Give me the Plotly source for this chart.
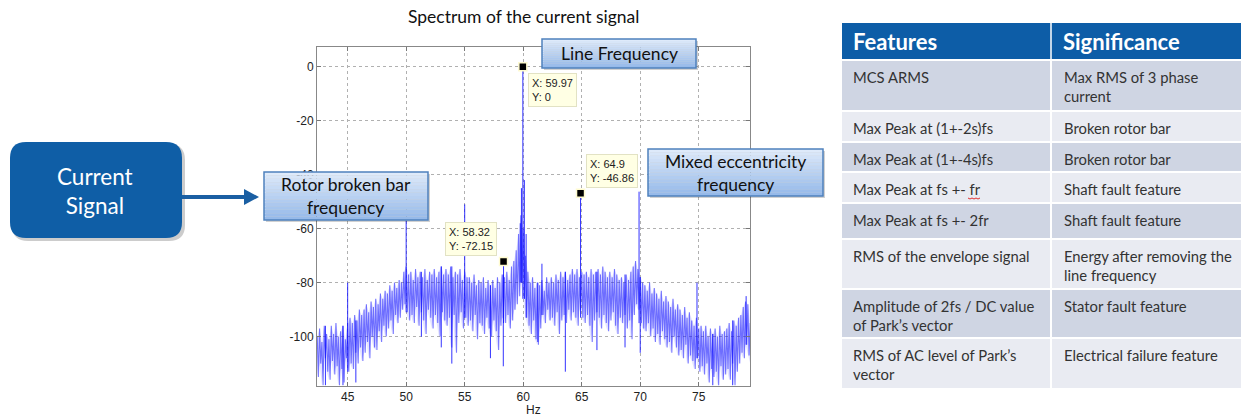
import numpy as np
import plotly.graph_objects as go

W, H = 1245, 419

# ---------------- data ----------------
freq_start_hz = 42.4
freq_step_hz = 0.2

band_upper_db = [
    -100, -97, -102, -96, -99,   -101, -96, -99, -95, -100,   -98, -96, -101, -95, -93,
    -95, -92, -94, -90, -92,     -90, -88, -91, -87, -89,     -86, -88, -84, -86, -83,
    -84, -81, -83, -80, -82,     -79, -80, -76, -74, -77,     -76, -79, -75, -78, -76,
    -78, -75, -79, -76, -77,     -75, -78, -76, -74, -77,     -75, -77, -74, -78, -76,
    -77, -75, -79, -76, -78,     -78, -80, -77, -81, -79,     -80, -78, -82, -79, -81,
    -79, -82, -78, -80, -77,     -78, -76, -79, -74, -72,     -68, -62, -55, -60, -70,
    -76, -80, -78, -82, -80,     -81, -79, -83, -78, -80,     -78, -80, -77, -79, -76,
    -78, -76, -79, -77, -75,     -77, -75, -78, -76, -77,     -76, -78, -75, -77, -76,
    -75, -77, -74, -76, -78,     -76, -78, -75, -77, -79,     -78, -80, -77, -79, -76,
    -74, -72, -75, -78, -80,     -81, -83, -80, -84, -82,     -84, -86, -83, -87, -85,
    -87, -89, -86, -90, -88,     -90, -92, -89, -93, -91,     -94, -96, -93, -97, -96,
    -98, -96, -100, -97, -99,    -97, -100, -96, -99, -98,    -97, -95, -98, -94, -96,
    -93, -92, -89, -87, -88,
    -95,
]
band_lower_db = [
    -115, -110, -118, -108, -113,  -116, -109, -114, -111, -118,  -112, -117, -108, -113, -110,
    -112, -106, -110, -104, -109,  -106, -102, -108, -100, -104,  -105, -98, -102, -96, -100,
    -97, -94, -99, -92, -95,       -93, -90, -88, -91, -94,       -92, -95, -89, -96, -91,
    -94, -99, -90, -93, -97,       -92, -95, -100, -91, -94,      -96, -93, -104, -92, -106,
    -95, -91, -97, -93, -96,       -94, -98, -92, -101, -95,      -96, -99, -93, -97, -100,
    -94, -98, -105, -96, -93,      -95, -92, -97, -94, -90,       -88, -85, -80, -86, -93,
    -96, -99, -94, -101, -103,     -97, -92, -95, -90, -94,       -93, -96, -91, -99, -94,
    -92, -95, -90, -94, -91,       -93, -96, -90, -93, -95,       -92, -96, -102, -94, -91,
    -93, -97, -92, -95, -98,       -94, -91, -96, -99, -93,       -95, -92, -97, -94, -101,
    -92, -88, -90, -95, -97,       -98, -95, -100, -97, -102,     -99, -103, -98, -101, -104,
    -102, -106, -100, -104, -107,  -105, -108, -103, -110, -107,  -109, -112, -108, -113, -111,
    -114, -110, -117, -112, -115,  -113, -118, -111, -116, -114,  -112, -116, -110, -118, -113,
    -110, -106, -108, -103, -107,
    -110,
]

peak_hz = [45.0, 50.0, 55.0, 58.32, 59.75, 59.85, 59.97, 60.1, 60.25, 61.6, 64.9, 69.9, 74.85, 79.05]
peak_db = [-80, -57, -51, -72.15, -58, -45, 0, -42, -62, -73, -46.86, -46.3, -80, -85]

dip_hz = [43.1, 44.6, 45.7, 51.3, 53.0, 53.9, 57.2, 58.3, 61.25, 63.6, 66.3, 68.7, 70.0, 76.2, 77.9]
dip_db = [-118, -118, -117, -100, -104, -110, -108, -111, -102, -113, -105, -104, -106, -118, -118]

tip_hz = [59.97, 58.32, 64.9]
tip_db = [0, -72.15, -46.86]

x_ticks = [45, 50, 55, 60, 65, 70, 75]
y_ticks = [0, -20, -40, -60, -80, -100]

features = [
    "MCS ARMS",
    "Max Peak at (1+-2s)fs",
    "Max Peak at (1+-4s)fs",
    "Max Peak at fs +- fr",
    "Max Peak at fs +- 2fr",
    "RMS of the envelope signal",
    "Amplitude of 2fs / DC value<br>of Park\u2019s vector",
    "RMS of AC level of Park\u2019s<br>vector",
]
significance = [
    "Max RMS of 3 phase<br>current",
    "Broken rotor bar",
    "Broken rotor bar",
    "Shaft fault feature",
    "Shaft fault feature",
    "Energy after removing the<br>line frequency",
    "Stator fault feature",
    "Electrical failure feature",
]

# ---------------- helpers ----------------
def px(x):
    return x / W


def py(y):
    return 1 - y / H


LINE_COL = "rgba(15,15,255,0.55)"

freq_hz = np.round(freq_start_hz + freq_step_hz * np.arange(len(band_upper_db)), 3)

zx, zy = [], []
for f, u, l in zip(freq_hz, band_upper_db, band_lower_db):
    zx += [f, f + freq_step_hz / 2]
    zy += [u, l]

# light filled body of the noise band
bx = list(freq_hz) + list(freq_hz[::-1])
by = list(band_upper_db) + list(band_lower_db[::-1])


def nearest(f):
    return int(np.argmin(np.abs(freq_hz - f)))


sx, sy = [], []
for f, v in zip(peak_hz, peak_db):
    base = band_lower_db[nearest(f)]
    sx += [f, f, None]
    sy += [base, v, None]
for f, v in zip(dip_hz, dip_db):
    base = band_upper_db[nearest(f)]
    sx += [f, f, None]
    sy += [base, v, None]

fig = go.Figure()
fig.add_trace(go.Scatter(x=bx, y=by, mode="lines", fill="toself", fillcolor="rgba(80,80,255,0.16)",
                         line=dict(width=0), hoverinfo="skip", showlegend=False))
fig.add_trace(go.Scatter(x=zx, y=zy, mode="lines", line=dict(color=LINE_COL, width=1.1),
                         hoverinfo="skip", showlegend=False))
fig.add_trace(go.Scatter(x=sx, y=sy, mode="lines", line=dict(color="rgba(15,15,255,0.85)", width=1),
                         hoverinfo="skip", showlegend=False))
fig.add_trace(go.Scatter(x=tip_hz, y=tip_db, mode="markers",
                         marker=dict(symbol="square", size=8, color="black",
                                     line=dict(color="#fffbd0", width=1.5)),
                         hoverinfo="skip", showlegend=False))

# plot area in pixels
PL, PR, PT, PB = 317, 750, 47, 386
axis_font = dict(family="Liberation Sans, Arial", size=12, color="#222")
fig.update_xaxes(domain=[px(PL), px(PR)], range=[42.38, 79.38], tickvals=x_ticks,
                 ticktext=[str(t) for t in x_ticks],
                 ticks="inside", ticklen=4, tickcolor="#777", showline=True, linecolor="#888",
                 linewidth=1, mirror="ticks", showgrid=True, gridcolor="#b0b0b0", griddash="dot",
                 gridwidth=1, zeroline=False, tickfont=axis_font)
fig.update_yaxes(domain=[py(PB), py(PT)], range=[-118.3, 7.3], tickvals=y_ticks,
                 ticktext=[str(t) for t in y_ticks],
                 ticks="inside", ticklen=4, tickcolor="#777", showline=True, linecolor="#888",
                 linewidth=1, mirror="ticks", showgrid=True, gridcolor="#b0b0b0", griddash="dot",
                 gridwidth=1, zeroline=False, tickfont=axis_font)

shapes = []
annotations = []

# title and x label
annotations.append(dict(xref="paper", yref="paper", x=px(523), y=py(17), text="Spectrum of the current signal",
                        showarrow=False, xanchor="center", yanchor="middle",
                        font=dict(family="Lato", size=17.5, color="#111")))
annotations.append(dict(xref="paper", yref="paper", x=px(533), y=py(410), text="Hz",
                        showarrow=False, xanchor="center", yanchor="middle", font=axis_font))

# data tips
tip_layout = [("left", "top", 5, -6), ("right", "bottom", -7, 5), ("left", "bottom", 5, 5)]
for f, v, (xa, ya, xs, ys) in zip(tip_hz, tip_db, tip_layout):
    val = ("%g" % v)
    annotations.append(dict(xref="x", yref="y", x=f, y=v, text="X: %g<br>Y: %s" % (f, val),
                            showarrow=False, xanchor=xa, yanchor=ya, xshift=xs, yshift=ys, align="left",
                            bgcolor="#ffffe4", bordercolor="#e2e2c4", borderwidth=1, borderpad=3,
                            font=dict(family="Liberation Sans, Arial", size=11, color="#222")))


# callout boxes with vertical gradient
def callout(x0, y0, x1, y1, text):
    shapes.append(dict(type="rect", xref="paper", yref="paper", x0=px(x0 + 2), x1=px(x1 + 2),
                       y0=py(y1 + 2), y1=py(y0 + 2), line=dict(width=0), fillcolor="rgba(0,0,0,0.18)",
                       layer="above"))
    n = 14
    top = np.array([222, 234, 250])
    bot = np.array([150, 186, 234])
    for i in range(n):
        c = top + (bot - top) * (i / (n - 1))
        ya = y0 + (y1 - y0) * i / n
        yb = y0 + (y1 - y0) * (i + 1) / n
        shapes.append(dict(type="rect", xref="paper", yref="paper", x0=px(x0), x1=px(x1),
                           y0=py(yb), y1=py(ya), line=dict(width=0),
                           fillcolor="rgb(%d,%d,%d)" % tuple(c.astype(int)), layer="above"))
    shapes.append(dict(type="rect", xref="paper", yref="paper", x0=px(x0), x1=px(x1),
                       y0=py(y1), y1=py(y0), line=dict(color="#4f81bd", width=1.5),
                       fillcolor="rgba(0,0,0,0)", layer="above"))
    annotations.append(dict(xref="paper", yref="paper", x=px((x0 + x1) / 2), y=py((y0 + y1) / 2),
                            text=text, showarrow=False, xanchor="center", yanchor="middle",
                            font=dict(family="Lato", size=17.5, color="#111")))


callout(542, 39, 696, 68, "Line Frequency")
callout(264, 172, 428, 220, "Rotor broken bar<br>frequency")
callout(648, 149, 823, 196, "Mixed eccentricity<br>frequency")

# Current Signal box
def rounded_path(x0, y0, x1, y1, r):
    rx, ry = r / W, r / H
    a, b, c, d = px(x0), px(x1), py(y0), py(y1)
    return (f"M {a+rx},{c} L {b-rx},{c} Q {b},{c} {b},{c-ry} L {b},{d+ry} Q {b},{d} {b-rx},{d} "
            f"L {a+rx},{d} Q {a},{d} {a},{d+ry} L {a},{c-ry} Q {a},{c} {a+rx},{c} Z")


shapes.append(dict(type="path", xref="paper", yref="paper", path=rounded_path(12, 144, 185, 241, 16),
                   line=dict(width=0), fillcolor="rgba(0,0,0,0.2)", layer="above"))
shapes.append(dict(type="path", xref="paper", yref="paper", path=rounded_path(10, 142, 182, 238, 16),
                   line=dict(width=0), fillcolor="#0f5ea6", layer="above"))
annotations.append(dict(xref="paper", yref="paper", x=px(95), y=py(191), text="Current<br>Signal",
                        showarrow=False, xanchor="center", yanchor="middle",
                        font=dict(family="Lato", size=22.5, color="white")))

# arrow
shapes.append(dict(type="line", xref="paper", yref="paper", x0=px(182), x1=px(246), y0=py(197), y1=py(197),
                   line=dict(color="#1a5fa3", width=4), layer="above"))
shapes.append(dict(type="path", xref="paper", yref="paper",
                   path=f"M {px(244)},{py(189)} L {px(259)},{py(197)} L {px(244)},{py(205)} Z",
                   line=dict(width=0), fillcolor="#1a5fa3", layer="above"))

# table
TX0, TXM, TX1 = 842, 1051, 1241
shapes.append(dict(type="rect", xref="paper", yref="paper", x0=px(TX0), x1=px(TX1), y0=py(59), y1=py(23),
                   line=dict(width=0), fillcolor="#0d5da7", layer="above"))
shapes.append(dict(type="line", xref="paper", yref="paper", x0=px(TXM), x1=px(TXM), y0=py(59), y1=py(23),
                   line=dict(color="#ffffff", width=1.5), layer="above"))
for txt, xx in (("Features", 851), ("Significance", 1061)):
    annotations.append(dict(xref="paper", yref="paper", x=px(xx), y=py(42), text="<b>%s</b>" % txt,
                            showarrow=False, xanchor="left", yanchor="middle",
                            font=dict(family="Lato", size=22, color="white")))

row_bounds = [(61, 110), (112, 141), (143, 171), (173, 202), (204, 238), (240, 288), (290, 337), (339, 388)]
row_fill = ["#cfd5e3", "#e9ebf2"]
cell_font = dict(family="Lato", size=14.8, color="#333333")
for i, ((y0, y1), fa, sg) in enumerate(zip(row_bounds, features, significance)):
    col = row_fill[i % 2]
    shapes.append(dict(type="rect", xref="paper", yref="paper", x0=px(TX0), x1=px(TXM - 1),
                       y0=py(y1), y1=py(y0), line=dict(width=0), fillcolor=col, layer="above"))
    shapes.append(dict(type="rect", xref="paper", yref="paper", x0=px(TXM + 1), x1=px(TX1),
                       y0=py(y1), y1=py(y0), line=dict(width=0), fillcolor=col, layer="above"))
    for txt, xx in ((fa, 851), (sg, 1062)):
        annotations.append(dict(xref="paper", yref="paper", x=px(xx), y=py(y0 + 5), text=txt,
                                showarrow=False, xanchor="left", yanchor="top", align="left",
                                font=cell_font))

# spell-check squiggle under "fr"
shapes.append(dict(type="path", xref="paper", yref="paper",
                   path=f"M {px(968)},{py(198)} L {px(970)},{py(199)} L {px(972)},{py(198)} L {px(974)},{py(199)} "
                        f"L {px(976)},{py(198)} L {px(978)},{py(199)} L {px(980)},{py(198)}",
                   line=dict(color="#e03030", width=1), layer="above"))

fig.update_layout(width=W, height=H, autosize=False, margin=dict(l=0, r=0, t=0, b=0, pad=0),
                  paper_bgcolor="white", plot_bgcolor="white", shapes=shapes, annotations=annotations,
                  showlegend=False)

fig.write_html("out.html", config={"displayModeBar": False},
               post_script="document.body.style.margin='0px';document.body.style.padding='0px';"
                           "document.body.style.overflow='hidden';")
